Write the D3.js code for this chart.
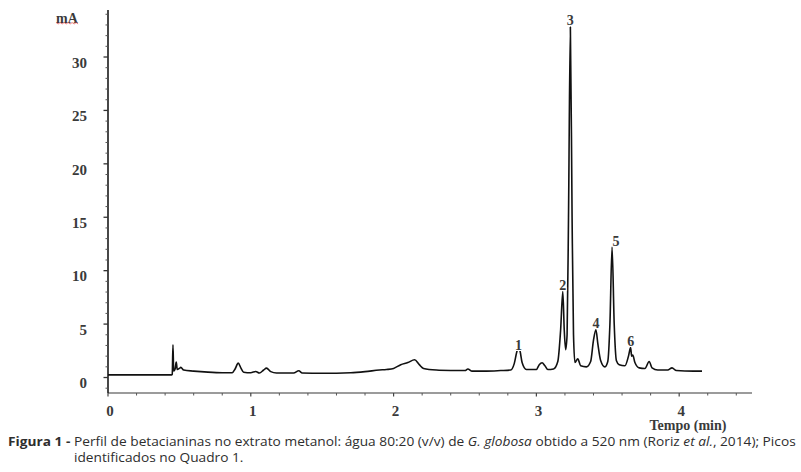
<!DOCTYPE html>
<html>
<head>
<meta charset="utf-8">
<script src="https://cdn.jsdelivr.net/npm/d3@7"></script>
<style>
  html, body { margin: 0; padding: 0; background: #fff; }
  svg { display: block; }
</style>
</head>
<body>
<div id="chart"></div>
<script>
// Chromatogram trace: retention time (min) and absorbance (mA)
const timeMin = [
  0, 0.445, 0.45, 0.455, 0.46, 0.47, 0.478, 0.485, 0.5, 0.51, 0.53, 0.6, 0.7, 0.8, 0.87,
  0.89, 0.912, 0.93, 0.95, 1.0, 1.035, 1.06, 1.09, 1.11, 1.14, 1.18, 1.3, 1.336, 1.36,
  1.5, 1.7, 1.8, 1.9, 1.95, 2.0, 2.05, 2.1, 2.147, 2.18, 2.21, 2.3, 2.4, 2.5, 2.52, 2.55,
  2.65, 2.75, 2.82, 2.845, 2.865, 2.874, 2.885, 2.9, 2.93, 3.0, 3.02, 3.04, 3.06, 3.08,
  3.12, 3.15, 3.17, 3.185, 3.195, 3.205, 3.215, 3.225, 3.238, 3.25, 3.26, 3.27, 3.29,
  3.31, 3.35, 3.38, 3.40, 3.417, 3.43, 3.45, 3.48, 3.50, 3.515, 3.53, 3.545, 3.56, 3.58,
  3.62, 3.645, 3.66, 3.667, 3.675, 3.69, 3.72, 3.76, 3.79, 3.81, 3.85, 3.92, 3.95, 3.98,
  4.1, 4.16
];
const absorbance = [
  0.25, 0.25, 0.3, 3.06, 0.6, 0.8, 1.44, 0.75, 0.85, 0.95, 0.7, 0.6, 0.5, 0.45, 0.45,
  0.8, 1.35, 0.9, 0.5, 0.45, 0.56, 0.42, 0.7, 0.88, 0.55, 0.42, 0.42, 0.63, 0.42,
  0.4, 0.45, 0.55, 0.7, 0.75, 0.85, 1.2, 1.4, 1.66, 1.2, 0.85, 0.7, 0.66, 0.65, 0.8, 0.6,
  0.6, 0.65, 0.7, 1.3, 2.5, 2.75, 2.5, 1.4, 0.75, 0.75, 1.2, 1.38, 1.1, 0.75,
  0.8, 1.5, 4.5, 8.05, 4.5, 2.6, 4.0, 15, 32.8, 15, 4.0, 1.4, 1.75,
  1.1, 1.0, 1.5, 3.5, 4.47, 3.2, 1.6, 1.0, 1.5, 5.0, 12.2, 5.0, 1.6, 1.2,
  1.1, 2.0, 2.8, 2.0, 2.1, 1.4, 0.9, 0.85, 1.5, 0.9, 0.7, 0.7, 0.9, 0.65,
  0.6, 0.6
];

// Identified peaks
const peakLabels = ["1", "2", "3", "4", "5", "6"];
const peakTimes = [2.874, 3.185, 3.238, 3.417, 3.53, 3.66];
const peakValues = [2.75, 8.05, 32.8, 4.47, 12.2, 2.8];

// Axis ticks
const xTickValues = [0, 1, 2, 3, 4];
const yTickValues = [0, 5, 10, 15, 20, 25, 30];

const width = 801, height = 472;
const serif = "'Liberation Serif', 'DejaVu Serif', serif";
const sans = "'Open Sans', 'Noto Sans', sans-serif";

const svg = d3.select("#chart").append("svg")
    .attr("width", width)
    .attr("height", height);

const x = d3.scaleLinear().domain([0, 4.51]).range([108, 752]);
const y = d3.scaleLinear().domain([-1.45, 34.4]).range([393, 10]);

// X axis (grey, small ticks below)
const xMinor = d3.range(0, 4.5, 0.2).filter(v => Math.abs(v - Math.round(v)) > 1e-6);
const xAxisG = svg.append("g").attr("transform", "translate(0," + y.range()[0] + ")");
xAxisG.append("line")
    .attr("x1", x.range()[0]).attr("x2", x.range()[1])
    .attr("stroke", "#7a7a7a").attr("stroke-width", 1.5);
xAxisG.selectAll(".xminor").data(xMinor).enter().append("line")
    .attr("x1", d => x(d)).attr("x2", d => x(d))
    .attr("y1", 0).attr("y2", 2.5)
    .attr("stroke", "#555").attr("stroke-width", 1);
xAxisG.selectAll(".xmajor").data(xTickValues).enter().append("line")
    .attr("x1", d => x(d)).attr("x2", d => x(d))
    .attr("y1", 0).attr("y2", 3.5)
    .attr("stroke", "#444").attr("stroke-width", 1.2);
xAxisG.selectAll(".xlabel").data(xTickValues).enter().append("text")
    .attr("x", d => x(d) + 2)
    .attr("y", 18)
    .attr("dy", "0.35em")
    .attr("text-anchor", "middle")
    .style("font-family", serif)
    .style("font-size", "15px")
    .style("font-weight", "bold")
    .style("fill", "#3a3a3a")
    .text(d => d);

svg.append("text")
    .attr("x", 688).attr("y", 425).attr("dy", "0.35em")
    .attr("text-anchor", "middle")
    .style("font-family", serif)
    .style("font-size", "14px")
    .style("font-weight", "bold")
    .style("fill", "#3a3a3a")
    .text("Tempo (min)");

// Y axis (black, ticks to the left)
const yMinor = d3.range(-1, 35, 1).filter(v => v % 5 !== 0);
const yAxisG = svg.append("g").attr("transform", "translate(" + x.range()[0] + ",0)");
yAxisG.append("line")
    .attr("y1", y.range()[1]).attr("y2", y.range()[0])
    .attr("stroke", "#1a1a1a").attr("stroke-width", 1.6);
yAxisG.selectAll(".yminor").data(yMinor).enter().append("line")
    .attr("x1", -2.5).attr("x2", 0)
    .attr("y1", d => y(d)).attr("y2", d => y(d))
    .attr("stroke", "#555").attr("stroke-width", 1);
yAxisG.selectAll(".ymajor").data(yTickValues).enter().append("line")
    .attr("x1", -4.5).attr("x2", 0)
    .attr("y1", d => y(d)).attr("y2", d => y(d))
    .attr("stroke", "#333").attr("stroke-width", 1.3);
yAxisG.selectAll(".ylabel").data(yTickValues).enter().append("text")
    .attr("x", -21)
    .attr("y", d => y(d) + 5.5)
    .attr("dy", "0.35em")
    .attr("text-anchor", "end")
    .style("font-family", serif)
    .style("font-size", "15px")
    .style("font-weight", "bold")
    .style("fill", "#3a3a3a")
    .text(d => d);

// Unit label with its red spell-check squiggle
const unit = svg.append("text")
    .attr("x", 67).attr("y", 18).attr("dy", "0.35em")
    .attr("text-anchor", "middle")
    .style("font-family", serif)
    .style("font-size", "14px")
    .style("font-weight", "bold")
    .style("fill", "#3a3a3a")
    .text("mA");
const ub = unit.node().getBBox();
const squiggle = d3.range(ub.x, ub.x + ub.width, 2).map((px, i) => [px, 23 + (i % 2 ? 1 : -0.5)]);
svg.append("path")
    .attr("d", d3.line()(squiggle))
    .attr("fill", "none")
    .attr("stroke", "#e04848")
    .attr("stroke-width", 0.9)
    .attr("opacity", 0.8);

// Chromatogram trace
const trace = timeMin.map((t, i) => [t, absorbance[i]]);
svg.append("path")
    .datum(trace)
    .attr("fill", "none")
    .attr("stroke", "#111")
    .attr("stroke-width", 1.6)
    .attr("stroke-linejoin", "round")
    .attr("d", d3.line()
        .x(d => x(d[0]))
        .y(d => y(d[1]))
        .curve(d3.curveMonotoneX));

// Peak numbers
svg.selectAll(".peak").data(peakLabels).enter().append("text")
    .attr("x", (d, i) => x(peakTimes[i]) + (d === "5" ? 4 : 0))
    .attr("y", (d, i) => y(peakValues[i]) - (d === "1" ? 3 : 6.5))
    .attr("dy", "0.35em")
    .attr("text-anchor", "middle")
    .style("font-family", serif)
    .style("font-size", "14px")
    .style("font-weight", "bold")
    .style("fill", "#3a3a3a")
    .style("paint-order", "stroke")
    .style("stroke", "#fff")
    .style("stroke-width", 2)
    .text(d => d);

// Caption
const cap = svg.append("g").style("font-family", sans).style("font-size", "13px").style("fill", "#2e2e2e");
const line1 = cap.append("text").attr("x", 0).attr("y", 0);
line1.append("tspan").style("font-weight", "bold").text("Figura 1 - ");
line1.append("tspan").text("Perfil de betacianinas no extrato metanol: água 80:20 (v/v) de ");
line1.append("tspan").style("font-style", "italic").text("G. globosa");
line1.append("tspan").text(" obtido a 520 nm (Roriz ");
line1.append("tspan").style("font-style", "italic").text("et al.");
line1.append("tspan").text(", 2014); Picos");
const w1 = line1.node().getComputedTextLength();
const sx = (796 - 8) / w1;
line1.attr("transform", "translate(8,446) scale(" + sx + ",1)");
const indent = line1.node().getSubStringLength(0, "Figura 1 - ".length) * sx;
cap.append("text")
    .attr("transform", "translate(" + (8 + indent) + ",462) scale(" + sx + ",1)")
    .text("identificados no Quadro 1.");
</script>
</body>
</html>
